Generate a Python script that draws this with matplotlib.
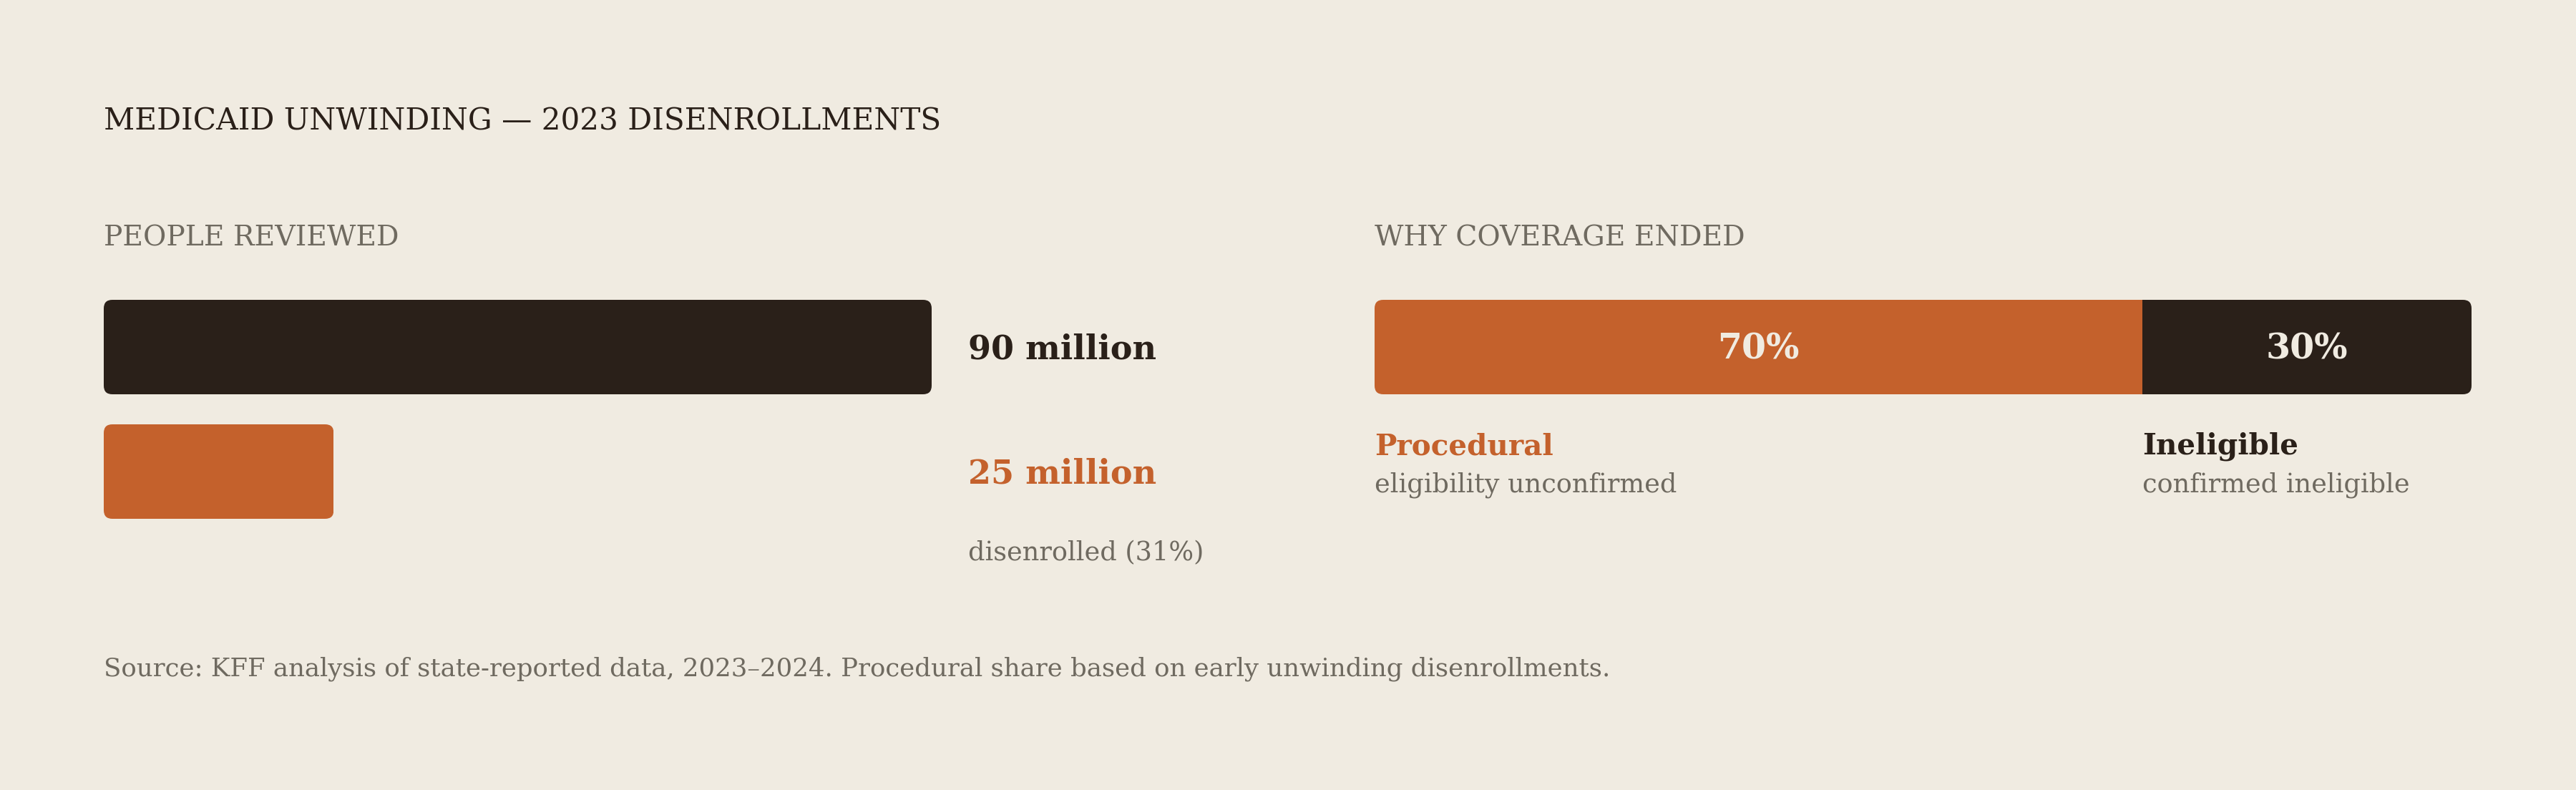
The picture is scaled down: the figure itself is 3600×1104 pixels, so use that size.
import matplotlib
matplotlib.use("Agg")
import matplotlib.pyplot as plt
from matplotlib.patches import FancyBboxPatch
from matplotlib.transforms import blended_transform_factory

# colours
BG = "#F0EBE1"
DARK = "#2A2019"
ORANGE = "#C4612C"
GRAY = "#6F6A60"

# data
title = "MEDICAID UNWINDING — 2023 DISENROLLMENTS"
left_title = "PEOPLE REVIEWED"
right_title = "WHY COVERAGE ENDED"
people_values = [90, 25]  # millions
people_labels = ["90 million", "25 million"]
disenrolled_note = "disenrolled (31%)"
reason_names = ["Procedural", "Ineligible"]
reason_notes = ["eligibility unconfirmed", "confirmed ineligible"]
reason_shares = [70, 30]
source = ("Source: KFF analysis of state-reported data, 2023–2024. "
          "Procedural share based on early unwinding disenrollments.")

plt.rcParams['font.family'] = ['DejaVu Serif']

W, H = 3600, 1104
DPI = 200
PT = DPI / 72.0  # px per point


def fx(px):
    return px / W


def fy(py):
    return 1 - py / H


def rounded_clip(ax, x, y, w, h, r_px, xppu, yppu):
    # rounded box in data units, used as a clip path for the bars
    return FancyBboxPatch((x, y), w, h,
                          boxstyle=f"round,pad=0,rounding_size={r_px / xppu}",
                          mutation_aspect=xppu / yppu,
                          transform=ax.transData, facecolor="none",
                          edgecolor="none")


fig = plt.figure(figsize=(W / DPI, H / DPI), dpi=DPI, facecolor=BG)

fig.text(fx(145), fy(182), title, fontsize=15.2, color=DARK, va='baseline')
fig.text(fx(145), fy(344), left_title, fontsize=14.2, color=GRAY, va='baseline')
fig.text(fx(1921), fy(344), right_title, fontsize=14.2, color=GRAY, va='baseline')
fig.text(fx(145), fy(944), source, fontsize=12.8, color=GRAY, va='baseline')

# ---- left panel: people reviewed vs disenrolled
bar_left, bar_right = 145, 1302
row_px = 174
bar_px = 132
top = 419
ax1 = fig.add_axes([fx(bar_left), fy(top + row_px + bar_px), (bar_right - bar_left) / W,
                    (row_px + bar_px) / H])
half = bar_px / 2 / row_px
ax1.set_xlim(0, max(people_values))
ax1.set_ylim(1 + half, -half)
ax1.axis('off')
xppu = (bar_right - bar_left) / max(people_values)
colors = [DARK, ORANGE]
bars = ax1.barh(range(len(people_values)), people_values, height=bar_px / row_px,
                color=colors, linewidth=0)
for b in bars:
    clip = rounded_clip(ax1, b.get_x(), b.get_y(), b.get_width(), b.get_height(),
                        12, xppu, row_px)
    b.set_clip_path(clip)

lab_tr = blended_transform_factory(ax1.transAxes, ax1.transData)
lab_x = 1 + (1353 - bar_right) / (bar_right - bar_left)
for i, (lab, col) in enumerate(zip(people_labels, colors)):
    ax1.annotate(lab, xy=(lab_x, i), xycoords=lab_tr, xytext=(0, -17 / PT),
                 textcoords='offset points', va='baseline', ha='left',
                 fontsize=16.6, fontweight='bold', color=col)
ax1.annotate(disenrolled_note, xy=(lab_x, 1), xycoords=lab_tr, xytext=(0, -124 / PT),
             textcoords='offset points', va='baseline', ha='left',
             fontsize=13.2, color=GRAY)

# ---- right panel: reasons, one stacked bar
r_left, r_right = 1921, 3454
ax2 = fig.add_axes([fx(r_left), fy(top + bar_px), (r_right - r_left) / W, bar_px / H])
total = sum(reason_shares)
ax2.set_xlim(0, total)
ax2.set_ylim(0.5, -0.5)
ax2.axis('off')
xppu2 = (r_right - r_left) / total
clip2 = rounded_clip(ax2, 0, -0.5, total, 1, 12, xppu2, bar_px)
lefts = [sum(reason_shares[:i]) for i in range(len(reason_shares))]
seg_colors = [ORANGE, DARK]
segs = ax2.barh([0] * len(reason_shares), reason_shares, left=lefts, height=1,
                color=seg_colors, linewidth=0)
for s in segs:
    s.set_clip_path(clip2)

for left, share, name, note, col in zip(lefts, reason_shares, reason_names,
                                        reason_notes, seg_colors):
    ax2.annotate(f"{share}%", xy=(left + share / 2, 0), xytext=(0, -17 / PT),
                 textcoords='offset points', ha='center', va='baseline',
                 fontsize=17.6, fontweight='bold', color=BG)
    ax2.annotate(name, xy=(left, 0.5), xytext=(0, -84 / PT),
                 textcoords='offset points', ha='left', va='baseline',
                 fontsize=14.6, fontweight='bold', color=col, annotation_clip=False)
    ax2.annotate(note, xy=(left, 0.5), xytext=(0, -136 / PT),
                 textcoords='offset points', ha='left', va='baseline',
                 fontsize=13.2, color=GRAY, annotation_clip=False)

fig.savefig("out.png", dpi=DPI, facecolor=BG)
